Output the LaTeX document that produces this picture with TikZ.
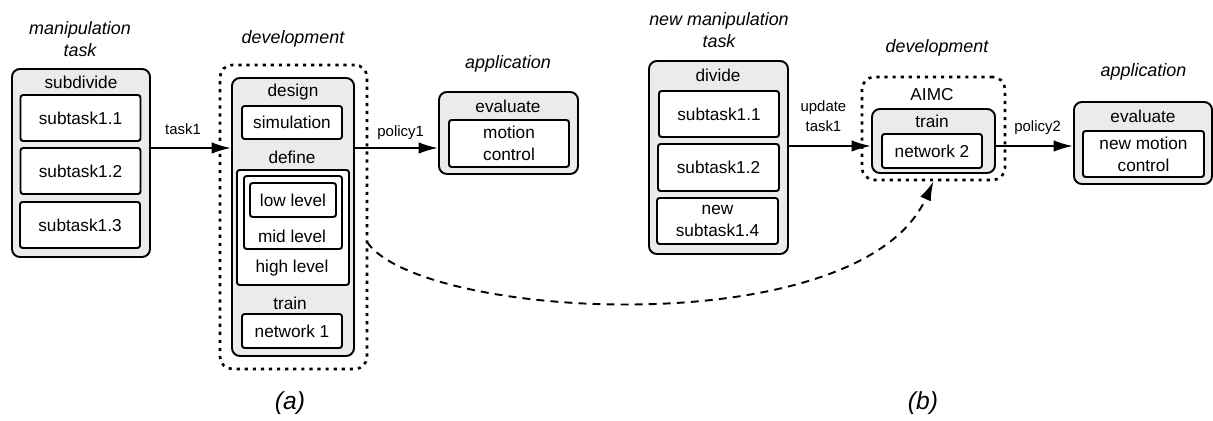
\documentclass[tikz,border=0pt]{standalone}
\usepackage{fontspec}
\setmainfont{Liberation Sans}
\usetikzlibrary{arrows.meta, positioning}
\definecolor{boxgray}{RGB}{235,235,235}

\begin{document}
\begin{tikzpicture}[x=0.02cm, y=-0.02cm,
  BoxSize/.style 2 args={minimum width=#1*0.02cm, minimum height=#2*0.02cm, inner sep=0pt},
  GroupStyle/.style={draw, line width=1.1pt, fill=boxgray, rounded corners=4.5pt},
  ItemStyle/.style={draw, line width=1.1pt, fill=white, rounded corners=1.5pt,
    font=\fontsize{9.8}{12.5}\selectfont, align=center},
  PhaseStyle/.style={draw, line width=1.5pt, dash pattern=on 1.8pt off 2.8pt, rounded corners=7pt},
  TextStyle/.style={inner sep=0pt, font=\fontsize{9.8}{12.5}\selectfont, align=center},
  TitleStyle/.style={inner sep=0pt, font=\fontsize{10.2}{12.5}\selectfont\itshape, align=center},
  EdgeLabel/.style={inner sep=0pt, font=\fontsize{8.5}{11.4}\selectfont, align=center},
  CaptionStyle/.style={inner sep=0pt, font=\fontsize{14}{16}\selectfont\itshape},
  ConnStyle/.style={-{Latex[length=11pt,width=6.5pt]}, line width=1.1pt},
  FeedbackStyle/.style={ConnStyle, dash pattern=on 4.5pt off 3.5pt}]
  \useasboundingbox (0,0) rectangle (1213,421);

  % (a) manipulation task
  \node[TitleStyle] (taskTitle) at (80,39) {manipulation\\task};
  \node[GroupStyle, BoxSize={138}{188}] (subdivide) at (81,163) {};
  \node[TextStyle] (subdivideLbl) at (81,82) {subdivide};
  \node[ItemStyle, BoxSize={120}{46}] (subA) at (80.5,118) {subtask1.1};
  \node[ItemStyle, BoxSize={120}{46}] (subB) at (80.5,171) {subtask1.2};
  \node[ItemStyle, BoxSize={120}{46}] (subC) at (80,225) {subtask1.3};

  % (a) development
  \node[TitleStyle] (devTitleA) at (293,39) {development};
  \node[PhaseStyle, BoxSize={147}{304}] (devA) at (293.5,217) {};
  \node[GroupStyle, BoxSize={122}{278}] (devGrayA) at (293,217) {};
  \node[TextStyle] (designLbl) at (293,92) {design};
  \node[ItemStyle, BoxSize={100}{33}] (simulation) at (292,122.5) {simulation};
  \node[TextStyle] (defineLbl) at (292,157) {define};
  \node[ItemStyle, BoxSize={112}{115}] (highBox) at (293,227.5) {};
  \node[ItemStyle, BoxSize={98}{73}] (midBox) at (293,212.5) {};
  \node[ItemStyle, BoxSize={86}{34}] (lowBox) at (293,200) {low level};
  \node[TextStyle] (midLbl) at (292,236) {mid level};
  \node[TextStyle] (highLbl) at (292,268) {high level};
  \node[TextStyle] (trainLblA) at (290,303) {train};
  \node[ItemStyle, BoxSize={100}{34}] (networkA) at (292,331) {network 1};

  % (a) application
  \node[TitleStyle] (appTitleA) at (508,64) {application};
  \node[GroupStyle, BoxSize={139}{82}] (evalA) at (508.5,133) {};
  \node[TextStyle] (evalLblA) at (508,106) {evaluate};
  \node[ItemStyle, BoxSize={120}{47}] (motionA) at (509,143.5) {motion\\control};

  % (b) new manipulation task
  \node[TitleStyle] (newTaskTitle) at (719,30) {new manipulation\\task};
  \node[GroupStyle, BoxSize={139}{193}] (divide) at (718.5,157.5) {};
  \node[TextStyle] (divideLbl) at (718,75) {divide};
  \node[ItemStyle, BoxSize={120}{46}] (newSubA) at (719,114) {subtask1.1};
  \node[ItemStyle, BoxSize={121}{47}] (newSubB) at (718.5,167.5) {subtask1.2};
  \node[ItemStyle, BoxSize={121}{46}] (newSubD) at (717.5,221) {new\\subtask1.4};

  % (b) development
  \node[TitleStyle] (devTitleB) at (937,48) {development};
  \node[PhaseStyle, BoxSize={143}{103}] (devB) at (933.5,128.5) {};
  \node[TextStyle] (aimcLbl) at (932,95) {AIMC};
  \node[GroupStyle, BoxSize={123}{64}] (trainB) at (933.5,141) {};
  \node[TextStyle] (trainLblB) at (932,121) {train};
  \node[ItemStyle, BoxSize={100}{34}] (networkB) at (932,151) {network 2};

  % (b) application
  \node[TitleStyle] (appTitleB) at (1143.5,72) {application};
  \node[GroupStyle, BoxSize={138}{82}] (evalB) at (1143,143) {};
  \node[TextStyle] (evalLblB) at (1143,116) {evaluate};
  \node[ItemStyle, BoxSize={121}{46}] (motionB) at (1143.5,154) {new motion\\control};

  % connectors
  \coordinate (flowA) at (0,148);
  \coordinate (flowB) at (0,146);
  \draw[ConnStyle] (subdivide.east |- flowA) -- node[EdgeLabel, pos=0.4, above=6.8pt] (task1Lbl) {task1} (devGrayA.west |- flowA);
  \draw[ConnStyle] (devGrayA.east |- flowA) -- node[EdgeLabel, pos=0.55, above=4.3pt] (policy1Lbl) {policy1} (evalA.west |- flowA);
  \draw[ConnStyle] (divide.east |- flowB) -- node[EdgeLabel, pos=0.42, above=7.4pt] (updateLbl) {update\\task1} (trainB.west |- flowB);
  \draw[ConnStyle] (trainB.east |- flowB) -- node[EdgeLabel, pos=0.54, above=6pt] (policy2Lbl) {policy2} (evalB.west |- flowB);
  \coordinate (loopStart) at (367,242);
  \draw[FeedbackStyle] (loopStart) .. controls (420,320) and (860,345) .. (devB.south);

  \node[CaptionStyle] (capA) at (290,403) {(a)};
  \node[CaptionStyle] (capB) at (923,403) {(b)};
\end{tikzpicture}
\end{document}
